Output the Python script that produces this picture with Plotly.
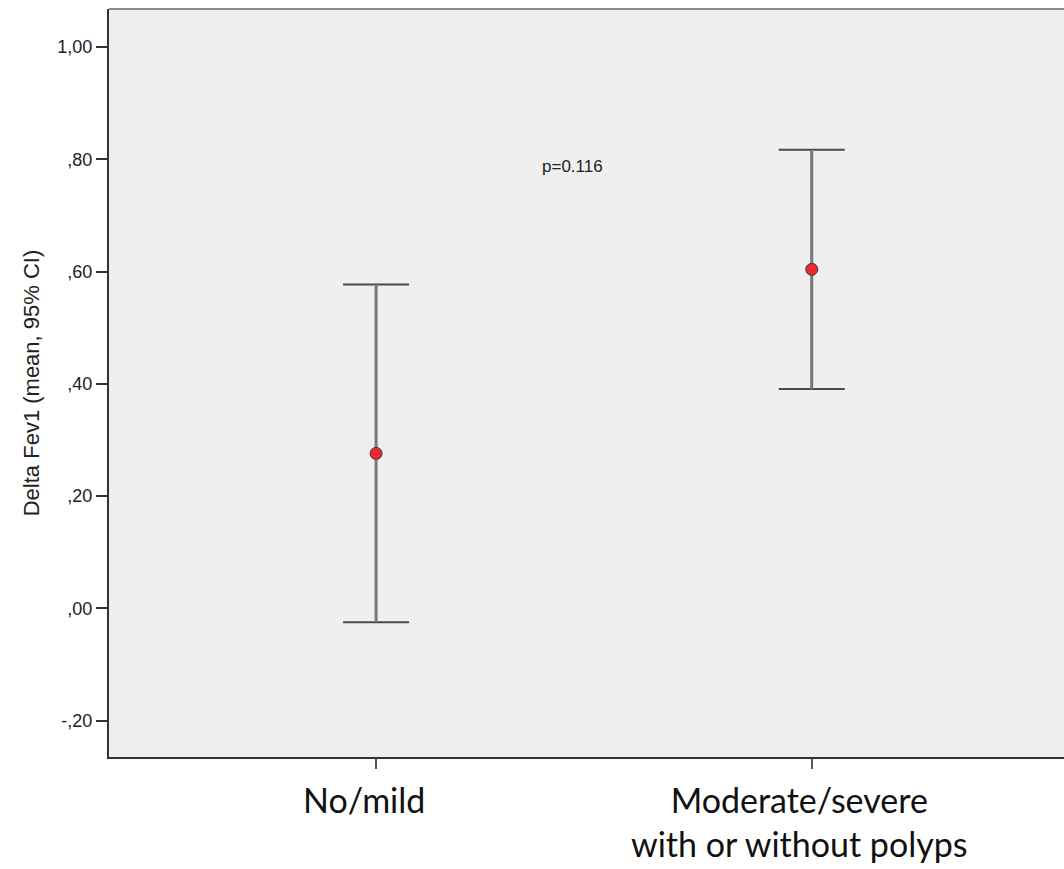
import plotly.graph_objects as go

categories = ["No/mild", "Moderate/severe<br>with or without polyps"]
cat_pos = [0, 1]
means = [0.276, 0.604]
upper = [0.577, 0.817]
lower = [-0.025, 0.391]
y_ticks = [-0.20, 0.00, 0.20, 0.40, 0.60, 0.80, 1.00]
y_tick_labels = ["-,20", ",00", ",20", ",40", ",60", ",80", "1,00"]
p_text = "p=0.116"

err_plus = [u - m for u, m in zip(upper, means)]
err_minus = [m - l for m, l in zip(means, lower)]

fig = go.Figure()
# caps
fig.add_trace(go.Scatter(
    x=cat_pos, y=means, mode="markers", marker=dict(size=1, opacity=0),
    error_y=dict(type="data", symmetric=False, array=err_plus, arrayminus=err_minus,
                 color="#4a4a4a", thickness=2, width=33),
    showlegend=False, hoverinfo="skip"))
# stems
fig.add_trace(go.Scatter(
    x=cat_pos, y=means, mode="markers", marker=dict(size=1, opacity=0),
    error_y=dict(type="data", symmetric=False, array=err_plus, arrayminus=err_minus,
                 color="#7a7a7a", thickness=3, width=0),
    showlegend=False, hoverinfo="skip"))
# means
fig.add_trace(go.Scatter(
    x=cat_pos, y=means, mode="markers",
    marker=dict(size=12, color="#ec2a2e", line=dict(color="#3a3a3a", width=1)),
    showlegend=False))

fig.add_annotation(x=0.45, y=0.787, text=p_text, showarrow=False,
                   font=dict(family="Arial, Liberation Sans", size=17, color="#222"),
                   xref="x", yref="y")

# category labels (slightly left of the tick, as in the original)
for pos, label in zip(cat_pos, categories):
    fig.add_annotation(x=pos, y=0, xref="x", yref="paper", text=label,
                       showarrow=False, xanchor="center", yanchor="top",
                       xshift=-12, yshift=-20,
                       font=dict(family="Lato, Open Sans", size=34, color="#111"))

fig.add_shape(type="line", xref="paper", yref="paper", x0=0, x1=1, y0=1, y1=1,
              line=dict(color="#8a8a8a", width=2))

fig.update_layout(
    width=1064, height=869,
    margin=dict(l=109, r=0, t=9, b=112),
    paper_bgcolor="white", plot_bgcolor="#efefef",
    font=dict(family="Arial, Liberation Sans", color="#222"),
)
fig.update_xaxes(
    range=[-0.613, 1.579], tickvals=cat_pos, showticklabels=False,
    showgrid=False, zeroline=False, showline=True, linecolor="#333", linewidth=2,
    ticks="outside", ticklen=10, tickwidth=2, tickcolor="#555",
)
fig.update_yaxes(
    range=[-0.265, 1.068], tickvals=y_ticks, ticktext=y_tick_labels,
    showgrid=False, zeroline=False, showline=True, linecolor="#333", linewidth=2,
    ticks="outside", ticklen=11, tickwidth=2, tickcolor="#333",
    tickfont=dict(family="Arial, Liberation Sans", size=18, color="#222"),
    title=dict(text="Delta Fev1 (mean, 95% CI)",
               font=dict(family="Arial, Liberation Sans", size=22, color="#222"),
               standoff=12),
)

fig.write_html("out.html")
